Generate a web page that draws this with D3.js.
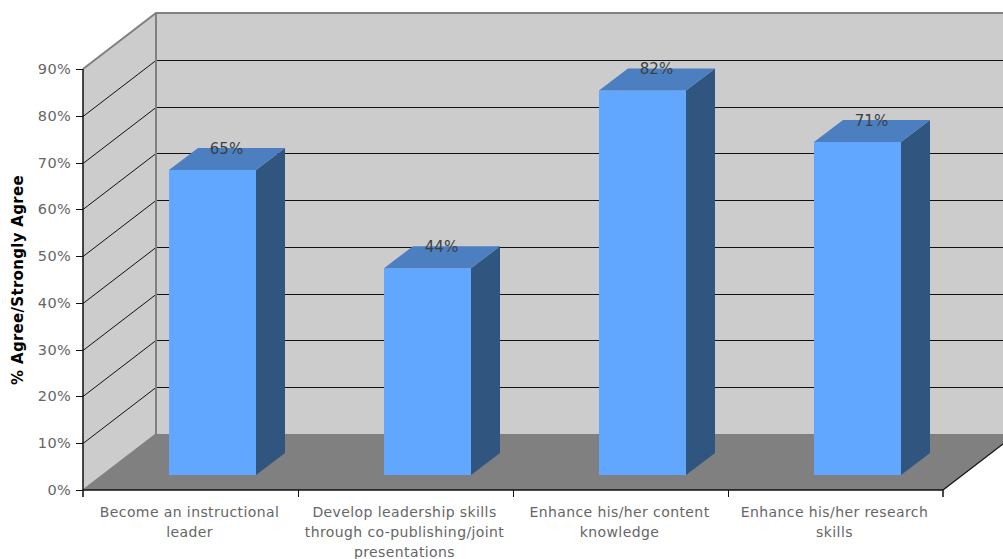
<!DOCTYPE html>
<html><head><meta charset="utf-8">
<script src="https://cdn.jsdelivr.net/npm/d3@7"></script>
<style>html,body{margin:0;padding:0;background:#fff;overflow:hidden}svg{display:block}text{font-family:"DejaVu Sans",sans-serif}</style>
</head><body><svg id="c" width="1003" height="559"></svg>
<script>
const categories=[["Become an instructional","leader"],["Develop leadership skills","through co-publishing/joint","presentations"],["Enhance his/her content","knowledge"],["Enhance his/her research","skills"]];
const values=[65,44,82,71];
const labels=["65%","44%","82%","71%"];
const yTicks=[0,10,20,30,40,50,60,70,80,90];
const yTitle="% Agree/Strongly Agree";

const svg=d3.select("#c");
const y=d3.scaleLinear().domain([0,90]).range([490,69]);
const x=d3.scaleBand().domain(d3.range(categories.length)).range([83,943]);
const depthX=73,depthY=-56;
const planeX=22,planeY=-15,barDX=29,barDY=-22;
const bw=87;
const x0=83,x1=943,yB=y(0),yT=y(90);
const poly=(pts,fill)=>svg.append("polygon").attr("points",pts.map(p=>p.join(",")).join(" ")).attr("fill",fill);
poly([[x0+depthX,yT+depthY],[x1+depthX,yT+depthY],[x1+depthX,yB+depthY],[x0+depthX,yB+depthY]],"#cccccc");
poly([[x0,yB],[x0+depthX,yB+depthY],[x0+depthX,yT+depthY],[x0,yT]],"#cccccc");
poly([[x0,yB],[x1,yB],[x1+depthX,yB+depthY],[x0+depthX,yB+depthY]],"#808080");
const grid=svg.append("g").attr("fill","none").attr("stroke","#111").attr("stroke-width",1);
yTicks.slice(1,-1).forEach(t=>{
  const yy=Math.round(y(t));
  grid.append("path").attr("d",`M${x0},${yy+.5}L${x0+depthX},${yy+depthY+.5}L${x1+depthX},${yy+depthY+.5}`);
});
const b=svg.append("g").attr("fill","none").attr("stroke","#808080");
b.append("path").attr("stroke-width",2).attr("d",`M${x0},${yT}L${x0+depthX},${yT+depthY}L1003,${yT+depthY}`);
b.append("path").attr("stroke-width",2).attr("d",`M${x0+depthX},${yT+depthY}V${yB+depthY}`);
b.append("path").attr("stroke-width",1.5).attr("d",`M${x0},${yB}L${x0+depthX},${yB+depthY}`);
values.forEach((v,i)=>{
  const l=x(i)+x.bandwidth()/2-bw/2+planeX, r=l+bw;
  const bot=yB+planeY, top=y(v)+planeY-1;
  poly([[l,bot],[r,bot],[r,top],[l,top]],"#61a6ff");
  poly([[r,bot],[r+barDX,bot+barDY],[r+barDX,top+barDY],[r,top]],"#30557f");
  poly([[l,top],[r,top],[r+barDX,top+barDY],[l+barDX,top+barDY]],"#4c7fc0");
  svg.append("text").attr("x",l+bw/2+14).attr("y",top+barDY+6).attr("text-anchor","middle").attr("font-size",15).attr("fill","#3a3f48").text(labels[i]);
});
svg.append("path").attr("fill","none").attr("stroke","#111").attr("stroke-width",1.5).attr("d",`M${x0},${yT}V${yB+7}M${x0},${yB}H${x1}V${yB+7}`);
svg.append("path").attr("fill","none").attr("stroke","#111").attr("stroke-width",1.2).attr("d",`M${x1},${yB}L${x1+depthX},${yB+depthY}`);
const ax=svg.append("g");
yTicks.forEach(t=>{
  const yy=Math.round(y(t));
  ax.append("line").attr("x1",x0-7).attr("x2",x0).attr("y1",yy+.5).attr("y2",yy+.5).attr("stroke","#111");
  ax.append("text").attr("x",71).attr("y",yy+5).attr("text-anchor","end").attr("font-size",14.5).attr("letter-spacing",.3).attr("fill","#666").text(t+"%");
});
categories.forEach((c,i)=>{
  if(i>0) ax.append("line").attr("x1",x(i)+.5).attr("x2",x(i)+.5).attr("y1",yB).attr("y2",yB+7).attr("stroke","#111");
  c.forEach((s,k)=>ax.append("text").attr("x",x(i)+x.bandwidth()/2-1).attr("y",517+k*20).attr("text-anchor","middle").attr("font-size",14).attr("letter-spacing",.4).attr("fill","#666").text(s));
});
svg.append("text").attr("transform","translate(23,280) rotate(-90)").attr("text-anchor","middle").attr("font-size",15).attr("letter-spacing",.3).attr("font-weight","bold").attr("fill","#000").text(yTitle);
</script></body></html>
